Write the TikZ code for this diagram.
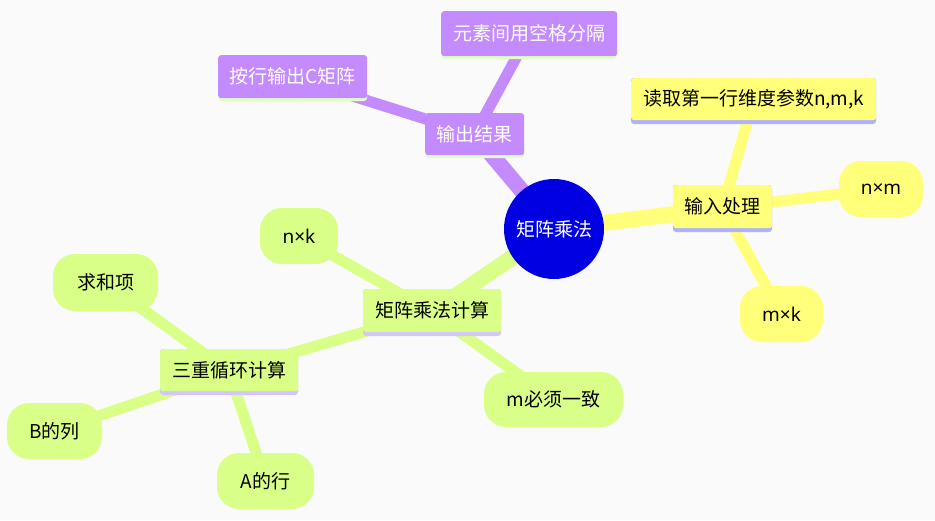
\documentclass[tikz,border=0pt]{standalone}
\usepackage{fontspec}
\setmainfont{Noto Sans CJK SC}
\newfontfamily\latinfont{Noto Sans}
\usetikzlibrary{calc}
\definecolor{bg}{HTML}{FAFAFA}
\definecolor{pur}{HTML}{C48BFF}
\definecolor{yel}{HTML}{FFFF7A}
\definecolor{grn}{HTML}{DAFF88}
\definecolor{blu}{HTML}{0000E0}
\definecolor{stripeG}{HTML}{E0FFC8}
\definecolor{stripeL}{HTML}{B0B0FF}
\definecolor{stripeP}{HTML}{D4C4FF}
\tikzset{
  x=1pt, y=-1pt,
  txt/.style={font=\fontsize{19}{22}\selectfont},
  boxn/.style={txt, rounded corners=3pt, inner sep=0pt, minimum height=44pt},
  leaf/.style={txt, rounded corners=22pt, inner sep=0pt, minimum height=56pt},
  mainline/.style={line width=16pt},
  subline/.style={line width=11pt},
}
\begin{document}
\begin{tikzpicture}
\fill[bg] (0,0) rectangle (935,520);
\useasboundingbox (0,0) rectangle (935,520);

% coordinates of node centres
\coordinate (c) at (554,229);
\coordinate (out) at (474.5,134.5);
\coordinate (outA) at (292.5,77);
\coordinate (outB) at (529,34);
\coordinate (inp) at (722.5,208);
\coordinate (inpA) at (753.5,100.5);
\coordinate (inpB) at (881,189);
\coordinate (inpC) at (781.5,314);
\coordinate (calc) at (432,312);
\coordinate (calcA) at (299,236);
\coordinate (calcB) at (553.5,399.5);
\coordinate (loop) at (229,371.5);
\coordinate (loopA) at (105.5,282.5);
\coordinate (loopB) at (54.5,431);
\coordinate (loopC) at (265.5,481);

% connectors
\draw[pur, mainline] (c) -- (out);
\draw[pur, subline] (out) -- (outA);
\draw[pur, subline] (out) -- (outB);
\draw[yel, mainline] (c) -- (inp);
\draw[yel, subline] (inp) -- (inpA);
\draw[yel, subline] (inp) -- (inpB);
\draw[yel, subline] (inp) -- (inpC);
\draw[grn, mainline] (c) -- (calc);
\draw[grn, subline] (calc) -- (calcA);
\draw[grn, subline] (calc) -- (calcB);
\draw[grn, subline] (calc) -- (loop);
\draw[grn, subline] (loop) -- (loopA);
\draw[grn, subline] (loop) -- (loopB);
\draw[grn, subline] (loop) -- (loopC);

% boxes with bottom stripe
% purple
\fill[stripeG, rounded corners=3pt] (425,113) rectangle (524,158);
\node[boxn, fill=pur, text=white, minimum width=99pt, minimum height=42pt, anchor=north west] (n-out) at (425,113) {输出结果};
\fill[stripeG, rounded corners=3pt] (218,55) rectangle (367,101);
\node[boxn, fill=pur, text=white, minimum width=149pt, minimum height=43pt, anchor=north west] (n-outA) at (218,55) {按行输出C矩阵};
\fill[stripeG, rounded corners=3pt] (441,11) rectangle (617,59);
\node[boxn, fill=pur, text=white, minimum width=176pt, minimum height=45pt, anchor=north west] (n-outB) at (441,11) {元素间用空格分隔};
% yellow
\fill[stripeL, rounded corners=3pt] (673,185) rectangle (772,232);
\node[boxn, fill=yel, text=black, minimum width=99pt, minimum height=43pt, anchor=north west] (n-inp) at (673,185) {输入处理};
\fill[stripeL, rounded corners=3pt] (631,78) rectangle (876,124);
\node[boxn, fill=yel, text=black, minimum width=245pt, minimum height=42pt, anchor=north west] (n-inpA) at (631,78) {读取第一行维度参数n,m,k};
% green
\fill[stripeP, rounded corners=3pt] (363,289) rectangle (501,336);
\node[boxn, fill=grn, text=black, minimum width=138pt, minimum height=43pt, anchor=north west] (n-calc) at (363,289) {矩阵乘法计算};
\fill[stripeP, rounded corners=3pt] (160,349) rectangle (298,395);
\node[boxn, fill=grn, text=black, minimum width=138pt, minimum height=42pt, anchor=north west] (n-loop) at (160,349) {三重循环计算};

% leaves
\node[leaf, fill=yel, minimum width=84pt] (n-inpB) at (inpB) {\latinfont n×m};
\node[leaf, fill=yel, minimum width=83pt] (n-inpC) at (inpC) {\latinfont m×k};
\node[leaf, fill=grn, minimum width=78pt] (n-calcA) at (calcA) {\latinfont n×k};
\node[leaf, fill=grn, minimum width=139pt, minimum height=55pt] (n-calcB) at (calcB) {m必须一致};
\node[leaf, fill=grn, minimum width=105pt, minimum height=57pt] (n-loopA) at (loopA) {求和项};
\node[leaf, fill=grn, minimum width=95pt] (n-loopB) at (loopB) {B的列};
\node[leaf, fill=grn, minimum width=97pt] (n-loopC) at (loopC) {A的行};

% centre
\node[circle, fill=blu, text=white, minimum size=100pt, inner sep=0pt, txt] (n-c) at (c) {矩阵乘法};
\end{tikzpicture}
\end{document}
